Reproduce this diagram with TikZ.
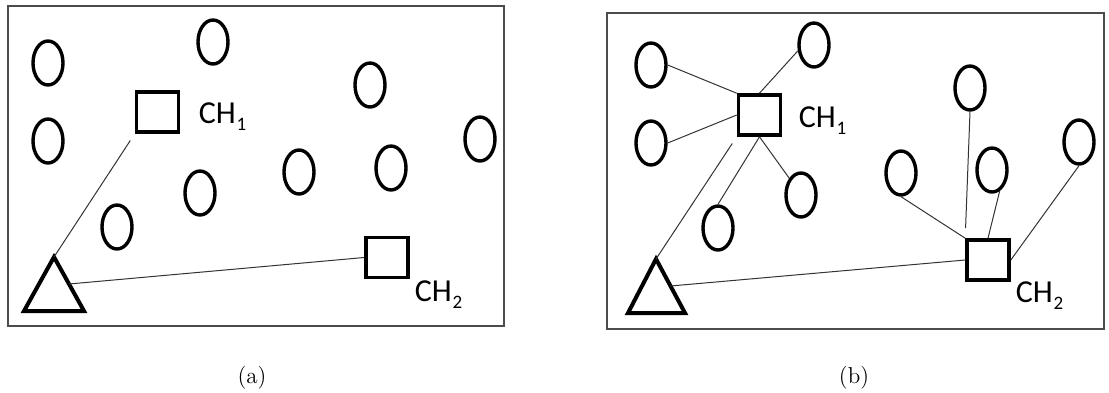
\documentclass[tikz,border=0pt]{standalone}
\usepackage{fontspec}
\newfontfamily\chfont{Carlito}
\usetikzlibrary{calc}
\usetikzlibrary{shapes.geometric}

% lowered index for the cluster head labels
\newcommand{\chidx}[1]{\kern0.3pt\raisebox{-3.5pt}{\fontsize{9.5}{10}\selectfont #1}}

\begin{document}
\begin{tikzpicture}[
    x=0.5pt, y=-0.5pt
  ]

% Styles for the sensor nodes, the cluster heads and the links
\tikzset{
  member/.style={ellipse, draw, line width=1.7pt, minimum width=15pt,
    minimum height=22pt, inner sep=0pt},
  headbox/.style={rectangle, draw, line width=1.8pt, minimum width=21pt,
    minimum height=20pt, inner sep=0pt},
  sinkline/.style={line width=2pt, line join=miter},
  link/.style={draw=black!80, line width=0.5pt},
  framebox/.style={draw=black!70, line width=0.75pt},
  chlabel/.style={font=\chfont\fontsize{16}{18}\selectfont, anchor=base west,
    inner sep=0pt},
  caption/.style={font=\fontsize{11.5}{14}\selectfont, inner sep=0pt}
}

% Fix the size of the whole picture (pixels of the reference)
\useasboundingbox (0,0) rectangle (1109,392);

% ---------------- Panel (a): clusters before joining ----------------
\draw[framebox] (8,6) rectangle (504,326);

% Sensor nodes
\node[member] (a1) at (48,63) {};
\node[member] (a2) at (213,42) {};
\node[member] (a3) at (370,85) {};
\node[member] (a4) at (48,141) {};
\node[member] (a5) at (480,139) {};
\node[member] (a6) at (299,172) {};
\node[member] (a7) at (391,168) {};
\node[member] (a8) at (200,193) {};
\node[member] (a9) at (117,227) {};

% Cluster heads and their labels
\node[headbox] (ach1) at (157.5,112) {};
\node[headbox] (ach2) at (387,257.5) {};
\node[chlabel] (ach1lbl) at (198.5,123) {CH\chidx{1}};
\node[chlabel] (ach2lbl) at (414.5,301) {CH\chidx{2}};

% Base station (triangle)
\coordinate (aapex) at (54,257);
\coordinate (aleft) at (24,311);
\coordinate (aright) at (84,311);
\draw[sinkline] (aapex) -- (aleft) -- (aright) -- cycle;
\coordinate (aside) at ($(aapex)!0.5!(aright)$);

% Links from the cluster heads to the base station
\draw[link, shorten >=4pt] (aapex) -- (ach1.south west);
\draw[link] (aside) -- (ach2.west);

% ---------------- Panel (b): members joined to their heads ----------------
\draw[framebox] (607,13) rectangle (1104,329);

% Sensor nodes
\node[member] (b1) at (651,65) {};
\node[member] (b2) at (814,45) {};
\node[member] (b3) at (651,143) {};
\node[member] (b4) at (970,88) {};
\node[member] (b5) at (1079,142) {};
\node[member] (b6) at (901,173) {};
\node[member] (b7) at (992,170) {};
\node[member] (b8) at (801,195) {};
\node[member] (b9) at (718,228) {};

% Cluster heads and their labels
\node[headbox] (bch1) at (759.5,115) {};
\node[headbox] (bch2) at (988,260) {};
\node[chlabel] (bch1lbl) at (798.5,127) {CH\chidx{1}};
\node[chlabel] (bch2lbl) at (1015.5,302) {CH\chidx{2}};

% Base station (triangle)
\coordinate (bapex) at (656,259);
\coordinate (bleft) at (628,313);
\coordinate (bright) at (685,313);
\draw[sinkline] (bapex) -- (bleft) -- (bright) -- cycle;
\coordinate (bside) at ($(bapex)!0.5!(bright)$);

% Members of cluster 1
\draw[link] (b1.east) -- (bch1.north west);
\draw[link] (b3.east) -- (bch1.west);
\draw[link] (b2.200) -- (bch1.north);
\draw[link] (bch1.south) -- (b9.north);
\draw[link] (bch1.south) -- (b8.125);

% Members of cluster 2
\draw[link] (bch2.north west) -- (b6.south);
\draw[link, shorten >=5pt] (b4.south) -- (bch2.north west);
\draw[link] (bch2.north) -- (b7.-70);
\draw[link] (bch2.east) -- (b5.south);

% Links from the cluster heads to the base station
\draw[link, shorten >=4pt] (bapex) -- (bch1.south west);
\draw[link] (bside) -- (bch2.west);

% Captions
\node[caption] (capa) at (252,377.5) {(a)};
\node[caption] (capb) at (854,377.5) {(b)};

\end{tikzpicture}
\end{document}
